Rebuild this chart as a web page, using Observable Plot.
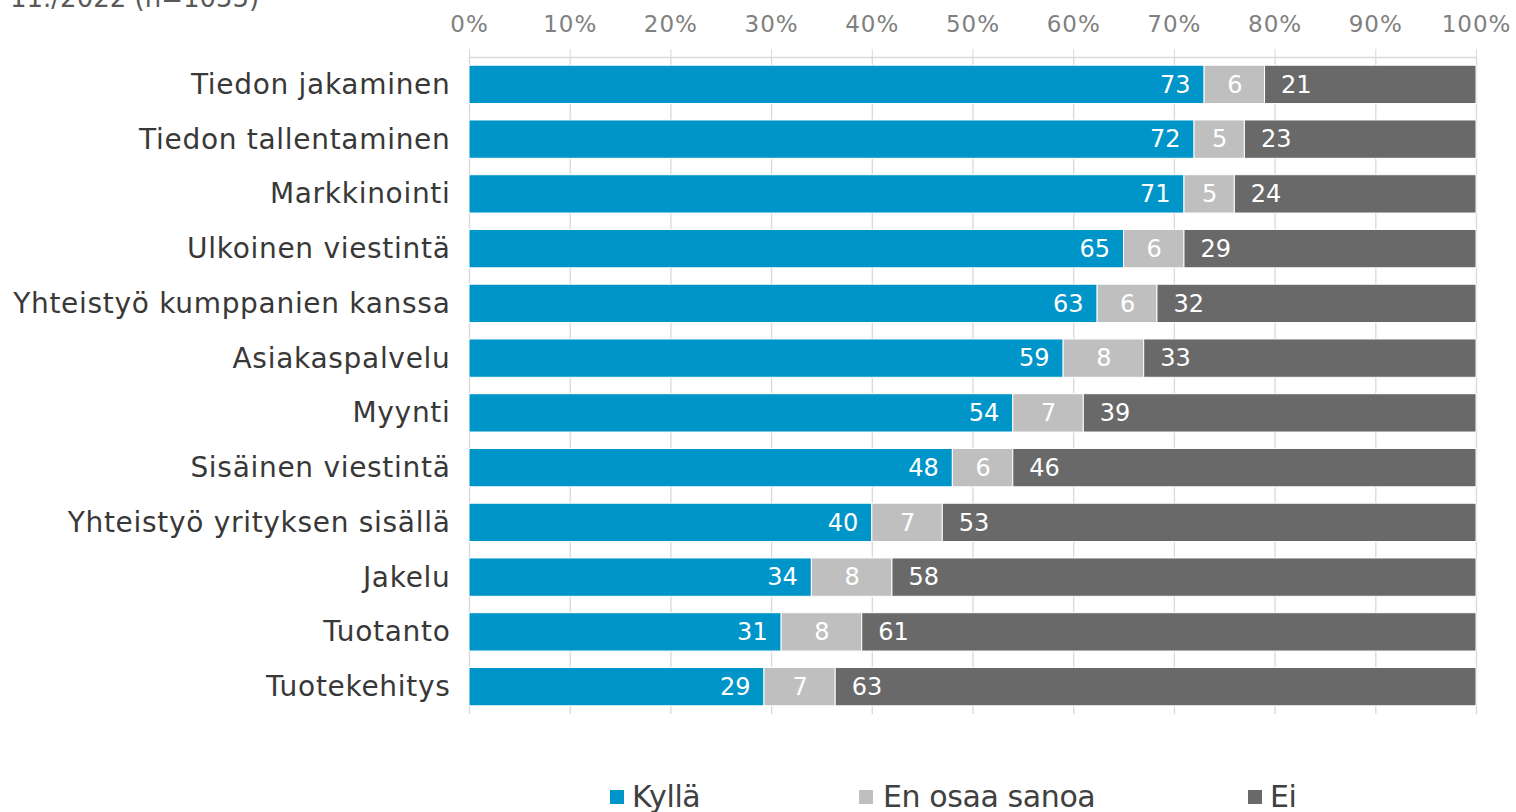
<!DOCTYPE html>
<html>
<head>
<meta charset="utf-8">
<script src="https://cdn.jsdelivr.net/npm/d3@7"></script>
<script src="https://cdn.jsdelivr.net/npm/@observablehq/plot@0.6"></script>
<style>
  html, body { margin: 0; padding: 0; background: #fff; }
  #wrap { position: relative; width: 1516px; height: 812px; overflow: hidden; font-family: "DejaVu Sans", Verdana, sans-serif; }
  #title { position: absolute; left: 10px; top: -17px; font-size: 26px; color: #595959; white-space: nowrap; }
  #chart { position: absolute; left: 0; top: 0; }
  #legend { position: absolute; top: 782px; left: 0; width: 1516px; height: 30px; }
  .item { position: absolute; top: 0; height: 30px; font-size: 30px; line-height: 30px; color: #404040; white-space: nowrap; letter-spacing: -0.4px; }
  .sw { position: absolute; left: 0; top: 8px; width: 14px; height: 14px; }
  .lt { position: absolute; top: 0; }
  g[aria-label="y-axis tick label"] text { letter-spacing: 0.7px; }
  g[aria-label="x-axis tick label"] text { letter-spacing: 1px; }
</style>
</head>
<body>
<div id="wrap">
  <div id="chart"></div>
  <div id="title">11./2022 (n=1055)</div>
  <div id="legend"></div>
</div>
<script>
const categories = [
  "Tiedon jakaminen", "Tiedon tallentaminen", "Markkinointi", "Ulkoinen viestintä",
  "Yhteistyö kumppanien kanssa", "Asiakaspalvelu", "Myynti", "Sisäinen viestintä",
  "Yhteistyö yrityksen sisällä", "Jakelu", "Tuotanto", "Tuotekehitys"
];
const groups = ["Kyllä", "En osaa sanoa", "Ei"];
const kylla = [73, 72, 71, 65, 63, 59, 54, 48, 40, 34, 31, 29];
const eos   = [6, 5, 5, 6, 6, 8, 7, 6, 7, 8, 8, 7];
const ei    = [21, 23, 24, 29, 32, 33, 39, 46, 53, 58, 61, 63];
const colors = ["#0095c8", "#bfbfbf", "#696969"];
const xTicks = [0, 0.1, 0.2, 0.3, 0.4, 0.5, 0.6, 0.7, 0.8, 0.9, 1];

const series = [kylla, eos, ei];
const data = [];
categories.forEach((c, i) => {
  groups.forEach((g, j) => data.push({category: c, group: g, value: series[j][i]}));
});

const common = {x: "value", y: "category", z: "group", order: groups, offset: "normalize"};

const plot = Plot.plot({
  width: 1516,
  height: 730,
  marginLeft: 469,
  marginRight: 40,
  marginTop: 57,
  marginBottom: 16,
  style: {fontFamily: "'DejaVu Sans', Verdana, sans-serif", background: "white"},
  x: {domain: [0, 1], axis: null},
  y: {domain: categories, paddingInner: 0.3, paddingOuter: 0.15, round: false, axis: null},
  color: {domain: groups, range: colors},
  marks: [
    Plot.gridX(xTicks, {stroke: "#d9d9d9", strokeOpacity: 1, strokeWidth: 1.3}),
    Plot.frame({anchor: "top", stroke: "#d9d9d9", strokeWidth: 1.3}),
    Plot.axisX(xTicks, {anchor: "top", tickSize: 9, stroke: "#d9d9d9", tickFormat: d => Math.round(d * 100) + "%", fontSize: 23, fill: "#808080", tickPadding: 17, label: null}),
    Plot.axisY({anchor: "left", tickSize: 0, tickPadding: 19, fontSize: 28, fill: "#383838", label: null}),
    Plot.barX(data, Plot.stackX({...common, fill: "group", stroke: "white", strokeWidth: 1})),
    Plot.text(data, Plot.stackX2({...common, text: d => d.group === "Kyllä" ? d.value : null, textAnchor: "end", dx: -14, fill: "white", fontSize: 24})),
    Plot.text(data, Plot.stackX({...common, text: d => d.group === "En osaa sanoa" ? d.value : null, textAnchor: "middle", fill: "white", fontSize: 24})),
    Plot.text(data, Plot.stackX1({...common, text: d => d.group === "Ei" ? d.value : null, textAnchor: "start", dx: 16, fill: "white", fontSize: 24}))
  ]
});
document.getElementById("chart").appendChild(plot);

const legendX = [610, 859, 1248];
const legendGap = [22, 24, 22];
const legend = document.getElementById("legend");
groups.forEach((g, i) => {
  const it = document.createElement("div");
  it.className = "item";
  it.style.left = legendX[i] + "px";
  it.innerHTML = `<span class="sw" style="background:${colors[i]}"></span><span class="lt" style="left:${legendGap[i]}px">${g}</span>`;
  legend.appendChild(it);
});
</script>
</body>
</html>
